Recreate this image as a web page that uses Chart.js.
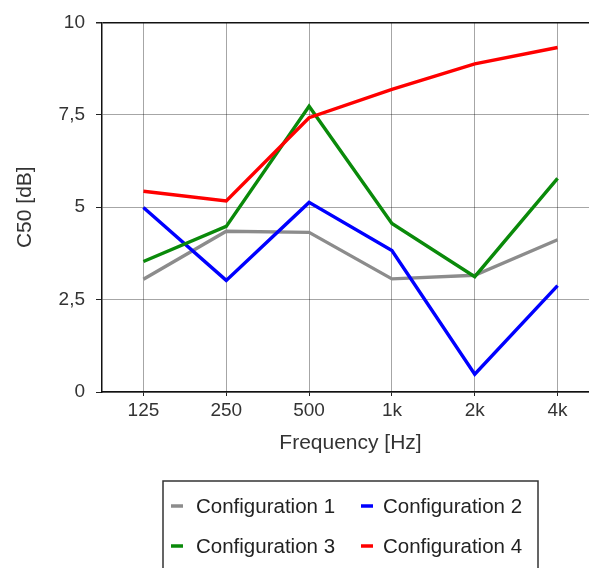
<!DOCTYPE html>
<html>
<head>
<meta charset="utf-8">
<script src="https://cdn.jsdelivr.net/npm/chart.js@4.4.1/dist/chart.umd.min.js"></script>
<style>
  html, body { margin: 0; padding: 0; background: #fff; overflow: hidden; }
  #wrap { width: 600px; height: 568px; }
</style>
</head>
<body>
<div id="wrap"><canvas id="chart" width="600" height="568"></canvas></div>
<script>
const frequencies = ['125', '250', '500', '1k', '2k', '4k'];
const config1 = [3.05, 4.35, 4.32, 3.06, 3.16, 4.12];
const config2 = [4.99, 3.02, 5.13, 3.83, 0.48, 2.88];
const config3 = [3.53, 4.48, 7.73, 4.56, 3.12, 5.78];
const config4 = [5.43, 5.17, 7.42, 8.19, 8.88, 9.32];
const seriesNames = ['Configuration 1', 'Configuration 2', 'Configuration 3', 'Configuration 4'];
const seriesColors = ['#8c8c8c', '#0000ff', '#0a8a0a', '#ff0000'];

const fontFamily = '"Liberation Sans", Arial, sans-serif';
const textColor = '#333';

// legend drawn as a boxed 2x2 grid below the plot
const boxLegend = {
    id: 'boxLegend',
    afterDraw(chart) {
        const ctx = chart.ctx;
        ctx.save();
        ctx.strokeStyle = '#333';
        ctx.lineWidth = 1.5;
        ctx.strokeRect(163, 481, 375, 110);
        ctx.font = '20.5px ' + fontFamily;
        ctx.textBaseline = 'middle';
        ctx.fillStyle = '#222';
        chart.data.datasets.forEach((ds, i) => {
            const col = i % 2;
            const row = Math.floor(i / 2);
            const lx = [171, 361][col];
            const tx = [196, 383][col];
            const y = [506, 546][row];
            ctx.strokeStyle = ds.borderColor;
            ctx.lineWidth = 3.5;
            ctx.beginPath();
            ctx.moveTo(lx, y);
            ctx.lineTo(lx + 12, y);
            ctx.stroke();
            ctx.fillText(ds.label, tx, y + 1);
        });
        ctx.restore();
    }
};

const allSeries = [config1, config2, config3, config4];

new Chart(document.getElementById('chart'), {
    type: 'line',
    data: {
        labels: frequencies,
        datasets: allSeries.map((values, i) => ({
            label: seriesNames[i],
            data: values,
            borderColor: seriesColors[i],
            backgroundColor: seriesColors[i],
            borderWidth: 3.4,
            pointRadius: 0,
            tension: 0,
            order: 4 - i
        }))
    },
    options: {
        responsive: false,
        animation: false,
        devicePixelRatio: 1,
        layout: { padding: { left: 0, top: 21, right: 1, bottom: 108 } },
        plugins: {
            legend: { display: false },
            tooltip: { enabled: false }
        },
        scales: {
            x: {
                offset: true,
                grid: {
                    offset: false,
                    color: 'rgba(0,0,0,0.35)',
                    tickColor: '#222',
                    tickLength: 4
                },
                border: { color: '#111', width: 1.5 },
                ticks: {
                    color: textColor,
                    font: { family: fontFamily, size: 19 },
                    padding: 3,
                    maxRotation: 0
                },
                title: {
                    display: true,
                    text: 'Frequency [Hz]',
                    color: textColor,
                    font: { family: fontFamily, size: 21 },
                    padding: { top: 0, bottom: 4.5 }
                },
                afterFit(scale) { scale.height = 68; }
            },
            y: {
                min: 0,
                max: 10,
                grid: {
                    color: (c) => c.tick && c.tick.value === 10 ? '#111' : 'rgba(0,0,0,0.35)',
                    lineWidth: (c) => c.tick && c.tick.value === 10 ? 1.5 : 1,
                    tickColor: '#222',
                    tickLength: 6
                },
                border: { color: '#111', width: 1.5 },
                ticks: {
                    stepSize: 2.5,
                    color: textColor,
                    font: { family: fontFamily, size: 19 },
                    padding: 11,
                    callback: (v) => String(v).replace('.', ',')
                },
                title: {
                    display: true,
                    text: 'C50 [dB]',
                    color: textColor,
                    font: { family: fontFamily, size: 21 },
                    padding: { top: 12.5, bottom: 0 }
                },
                afterFit(scale) { scale.width = 102; }
            }
        }
    },
    plugins: [boxLegend]
});
</script>
</body>
</html>
